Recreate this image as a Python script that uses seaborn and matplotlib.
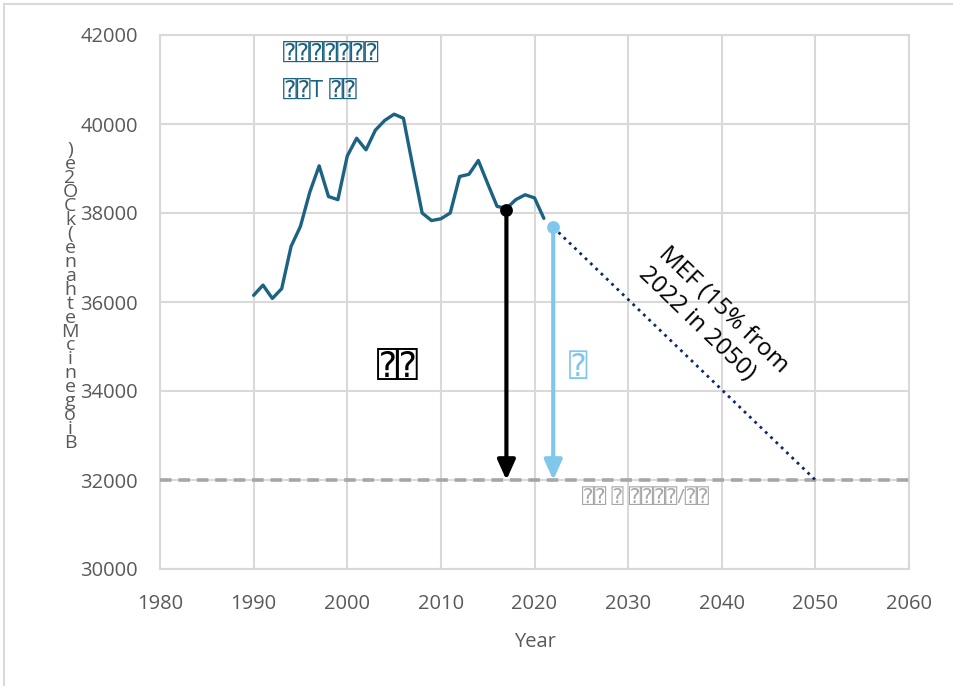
import numpy as np
import pandas as pd
import matplotlib
matplotlib.use('Agg')
import matplotlib.pyplot as plt
import matplotlib.patches as patches
import seaborn as sns

# biogenic methane series
years = [1990, 1991, 1992, 1993, 1994, 1995, 1996, 1997, 1998, 1999,
         2000, 2001, 2002, 2003, 2004, 2005, 2006, 2007, 2008, 2009,
         2010, 2011, 2012, 2013, 2014, 2015, 2016, 2017, 2018, 2019,
         2020, 2021]
methane = [36150, 36380, 36080, 36300, 37250, 37700, 38470, 39060, 38370, 38300,
           39280, 39680, 39420, 39860, 40080, 40220, 40130, 39050, 38000, 37830,
           37870, 38000, 38820, 38870, 39180, 38660, 38150, 38100, 38300, 38410,
           38340, 37880]

arrow_years = [2017, 2022]
arrow_starts = [38070, 37680]
target = 32000

mef_years = [2022, 2050]
mef_values = [37680, 32000]

xlim = (1980, 2060)
ylim = (30000, 42000)
xticks = list(range(1980, 2061, 10))
yticks = list(range(30000, 42001, 2000))

title_lines = ['⍰⍰⍰⍰⍰⍰⍰', '⍰⍰T ⍰⍰']
label_black = '⍰⍰'
label_blue = '⍰'
target_label = '⍰⍰ ⍰ ⍰⍰⍰⍰/⍰⍰'
mef_label = 'MEF (15% from\n2022 in 2050)'
ylabel = 'Biogenic Methane (kCO2e)'

sns.set_theme(style='whitegrid')
plt.rcParams['font.family'] = ['Open Sans', 'DejaVu Sans', 'DejaVu Sans Mono']

line_col = '#1c6282'
light_blue = '#7fc8ec'
navy = '#0b2a66'
grey = '#a6a6a6'
txt = '#595959'

fig = plt.figure(figsize=(9.54, 6.86), dpi=100)
ax = fig.add_axes([160/954, 1-569/686, 749/954, 534/686])

df = pd.DataFrame({'Year': years, 'Methane': methane})
sns.lineplot(data=df, x='Year', y='Methane', ax=ax, color=line_col, lw=2.4)

# target line
ax.plot(xlim, [target, target], color=grey, lw=2.6, dashes=(3.2, 1.9), zorder=3)

# MEF pathway
ax.plot(mef_years, mef_values, color=navy, lw=2.0, ls=':', zorder=3)

# arrows
for yr, start, col in zip(arrow_years, arrow_starts, ['black', light_blue]):
    ax.annotate('', xy=(yr, target), xytext=(yr, start),
                arrowprops=dict(arrowstyle='-|>,head_length=1.0,head_width=0.45',
                                color=col, lw=3, shrinkA=0, shrinkB=0), zorder=4)
    ax.scatter([yr], [start], s=85, color=col, zorder=5, linewidths=0)

ax.set_xlim(*xlim)
ax.set_ylim(*ylim)
ax.set_xticks(xticks)
ax.set_yticks(yticks)
ax.grid(True, color='#d9d9d9', lw=1.5)
for s in ax.spines.values():
    s.set_color('#d9d9d9')
    s.set_linewidth(1.5)
ax.tick_params(axis='both', length=0, labelsize=14.5, labelcolor=txt)
ax.tick_params(axis='y', pad=16)
ax.tick_params(axis='x', pad=18)
ax.set_xlabel('Year', fontsize=14.5, color=txt, labelpad=13)
ax.set_ylabel('')

stacked = '\n'.join(reversed(ylabel.replace(' ', '')))
ax.text(-0.12, 0.51, stacked, transform=ax.transAxes, ha='center', va='center',
        fontsize=14, color=txt, linespacing=0.71)

ax.text(1993.1, 41550, title_lines[0], color=line_col, fontsize=16.5, va='center', ha='left')
ax.text(1993.1, 40730, title_lines[1], color=line_col, fontsize=16.5, va='center', ha='left')
ax.text(2005.4, 34520, label_black, color='black', fontsize=25, va='center', ha='center')
ax.text(2024.6, 34520, label_blue, color=light_blue, fontsize=22, va='center', ha='center')
ax.text(2025.1, 31600, target_label, color=grey, fontsize=14.5, va='center', ha='left')
ax.text(2039.1, 35600, mef_label, color='black', fontsize=17.5, va='center', ha='center',
        rotation=-44, rotation_mode='anchor', multialignment='left')

fig.add_artist(patches.Rectangle((4/954, -0.02), 1.0, 1-4/686+0.02, transform=fig.transFigure,
                                 fill=False, edgecolor='#d9d9d9', lw=1.5))

fig.savefig('out.png', dpi=100)
